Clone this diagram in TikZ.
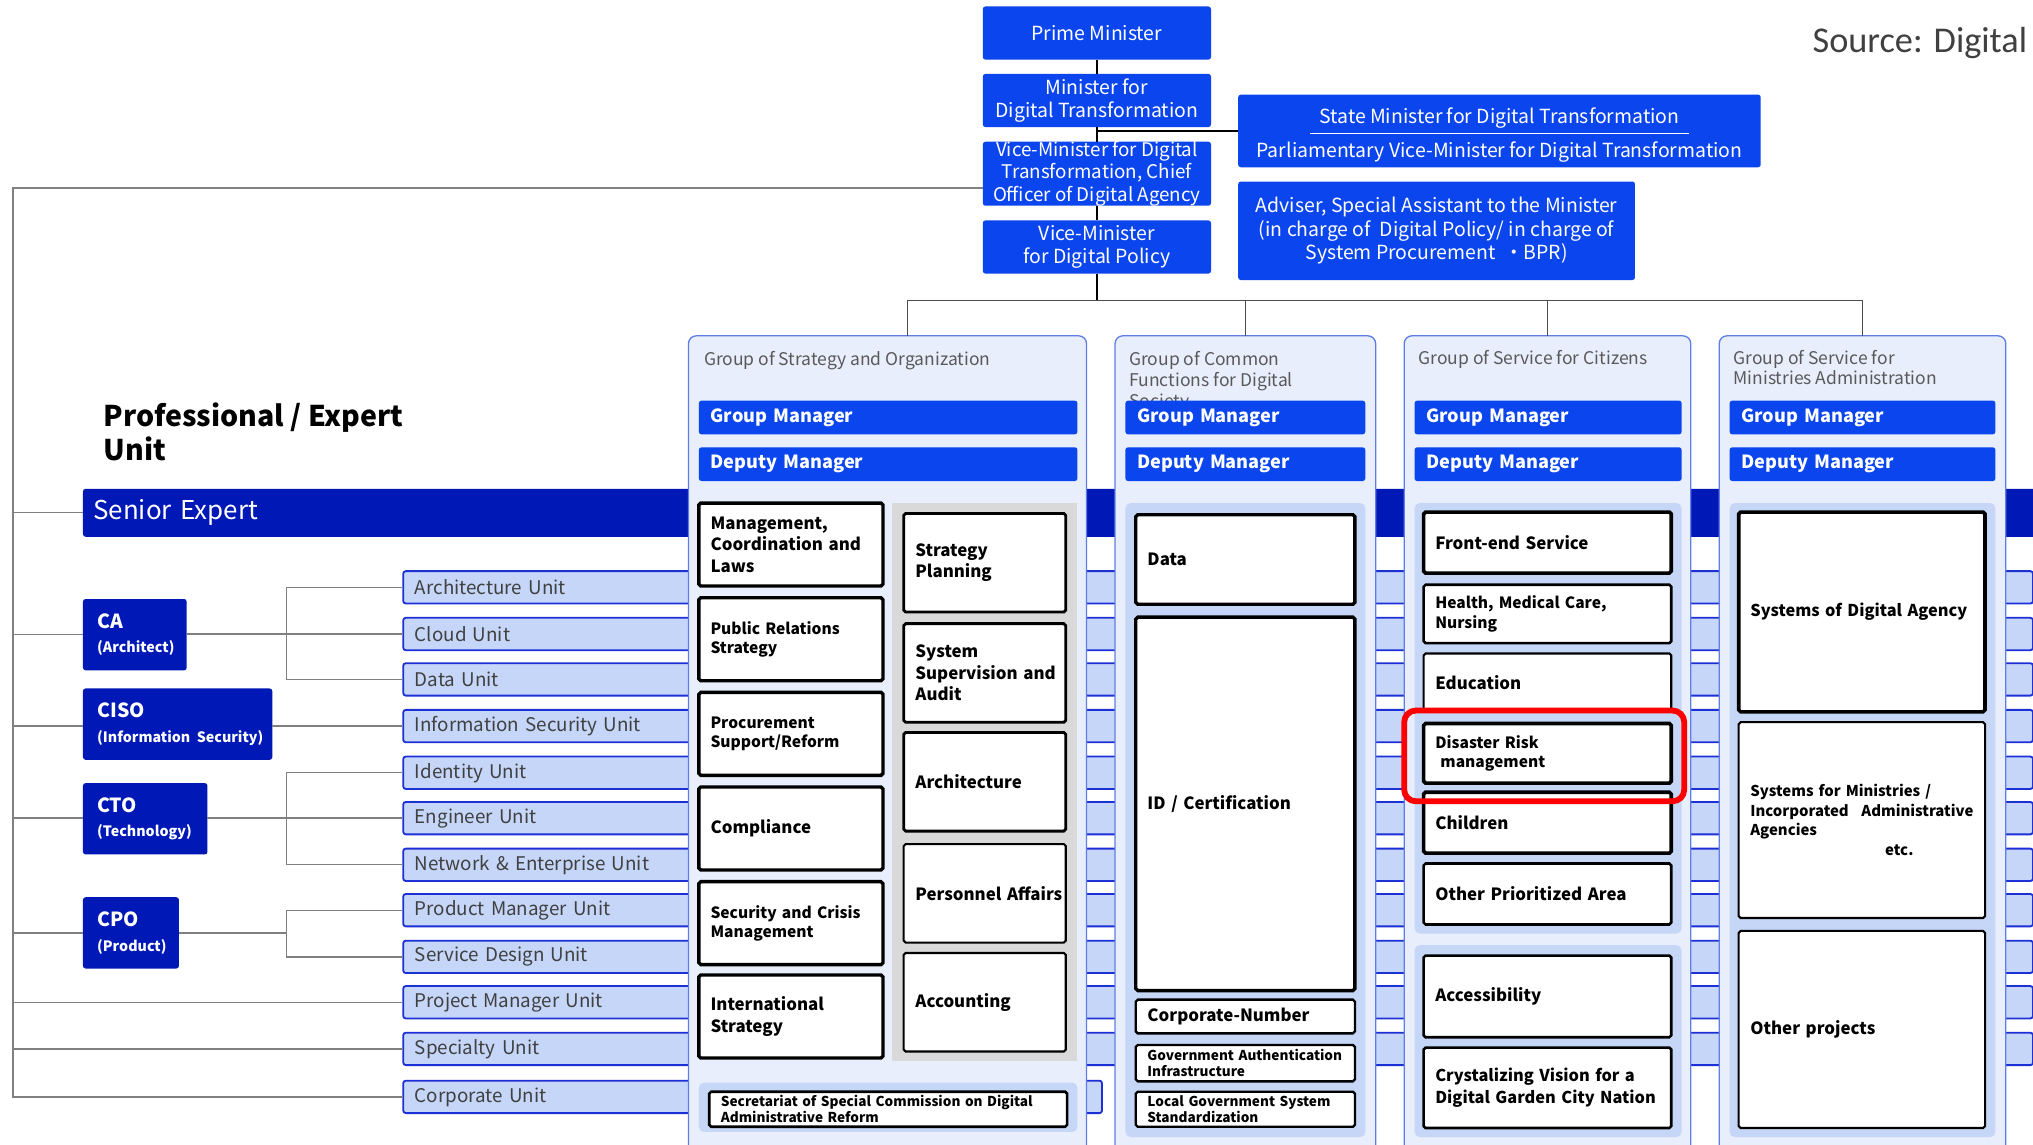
\documentclass[tikz,border=0pt]{standalone}
\usepackage{fontspec}
\setmainfont{Noto Sans CJK JP}
\newfontfamily\srcfont{Carlito}
\definecolor{topblue}{RGB}{11,69,238}
\definecolor{navy}{RGB}{0,24,182}
\definecolor{gfill}{RGB}{232,238,252}
\definecolor{gline}{RGB}{95,125,232}
\definecolor{panel}{RGB}{198,214,246}
\definecolor{unitfill}{RGB}{197,214,248}
\definecolor{unitline}{RGB}{28,48,214}
\definecolor{boxgray}{RGB}{217,217,217}
\definecolor{lgray}{RGB}{128,128,128}
\definecolor{txtgray}{RGB}{64,64,64}
\definecolor{titlegray}{RGB}{89,89,89}
\begin{document}
\begin{tikzpicture}[x=1pt,y=-1pt,
        every node/.style={inner sep=0pt,outer sep=0pt},
        topbox/.style={fill=topblue,rounded corners=2pt,text=white,align=center,font=\fontsize{15}{18}\selectfont},
        navybox/.style={fill=navy,rounded corners=2pt,text=white,anchor=north west,align=left,inner xsep=11pt,font=\fontsize{15}{19}\selectfont},
        unitbar/.style={draw=unitline,line width=1.4pt,fill=unitfill,rounded corners=2pt,anchor=west,minimum height=25pt,align=left,inner xsep=9pt,text=txtgray,font=\fontsize{14.5}{17}\selectfont},
        grp/.style={draw=gline,line width=1pt,fill=gfill,rounded corners=6pt,anchor=north west,minimum height=640pt},
        gtitle/.style={anchor=north west,align=left,text=titlegray,font=\fontsize{13.5}{16}\selectfont},
        mgr/.style={fill=topblue,rounded corners=2pt,anchor=north west,text=white,align=left,inner xsep=9pt,minimum height=26pt,font=\bfseries\fontsize{14}{16}\selectfont},
        cell/.style={draw,fill=white,rounded corners=1.5pt,anchor=north west,align=left,inner xsep=9pt,font=\bfseries\fontsize{13}{16.5}\selectfont,execute at begin node={\hyphenpenalty=10000}},
        fsmall/.style={font=\bfseries\fontsize{12}{15}\selectfont},
        ftiny/.style={font=\bfseries\fontsize{10.5}{12.5}\selectfont},
        conn/.style={draw=lgray,line width=1pt},
        chain/.style={line width=2pt}]
    \clip (0,0) rectangle (1568,883);
    \fill[white] (0,0) rectangle (1568,883);
    % top of the agency
    \node[topbox,minimum width=176pt,minimum height=41pt] (pm) at (846,25.5) {Prime Minister};
    \node[topbox,minimum width=176pt,minimum height=41pt] (mdt) at (846,77.5) {Minister for\\Digital Transformation};
    \node[topbox,minimum width=176pt,minimum height=48pt,font=\fontsize{14.5}{17}\selectfont] (vmc) at (846,134) {Vice-Minister for Digital\\Transformation, Chief\\Officer of Digital Agency};
    \node[topbox,minimum width=176pt,minimum height=41pt] (vmp) at (846,190.5) {Vice-Minister\\for Digital Policy};
    \node[topbox,minimum width=403pt,minimum height=56pt,font=\fontsize{15}{26}\selectfont] (smd) at (1156.5,101) {\rule{0pt}{19pt}State Minister for Digital Transformation\\Parliamentary Vice-Minister for Digital Transformation};
    \draw[white,line width=1.3pt] ([xshift=-146pt,yshift=-2pt]smd.center) -- ([xshift=146pt,yshift=-2pt]smd.center);
    \node[topbox,minimum width=306pt,minimum height=76pt] (adv) at (1108,178) {Adviser, Special Assistant to the Minister\\(in charge of\ \ Digital Policy/ in charge of\\System Procurement\ \ ・BPR)};
    \node[font=\srcfont\fontsize{28}{32}\selectfont,text=txtgray,anchor=west] (src) at (1398,33) {Source: Digital};
    \coordinate (bus) at (846,232);
    \draw[chain] (pm) -- (mdt) (mdt) -- (vmc) (vmc) -- (vmp) (vmp.south) -- (bus);
    \draw[chain] (smd.west) -- (smd.west -| mdt.south);

    % professional / expert unit
    \node[anchor=north west,align=left,font=\bfseries\fontsize{22}{26}\selectfont] (peu) at (80,311) {Professional / Expert\\Unit};
    \node[navybox,text width=1490pt,minimum height=37pt,inner xsep=8pt,font=\fontsize{20}{24}\selectfont] (se) at (64,377) {Senior Expert};
    \node[unitbar,text width=1239pt] (uarch) at (311,453) {Architecture Unit};
    \node[unitbar,text width=1239pt] (ucloud) at (311,489) {Cloud Unit};
    \node[unitbar,text width=1239pt] (udata) at (311,524) {Data Unit};
    \node[unitbar,text width=1239pt] (uisec) at (311,560) {Information Security Unit};
    \node[unitbar,text width=1239pt] (uident) at (311,596) {Identity Unit};
    \node[unitbar,text width=1239pt] (ueng) at (311,631) {Engineer Unit};
    \node[unitbar,text width=1239pt] (unet) at (311,667) {Network \& Enterprise Unit};
    \node[unitbar,text width=1239pt] (uprod) at (311,702) {Product Manager Unit};
    \node[unitbar,text width=1239pt] (usd) at (311,738) {Service Design Unit};
    \node[unitbar,text width=1239pt] (uproj) at (311,773) {Project Manager Unit};
    \node[unitbar,text width=1239pt] (uspec) at (311,809) {Specialty Unit};
    \node[unitbar,text width=521pt] (ucorp) at (311,846) {Corporate Unit};
    \node[navybox,text width=58pt,minimum height=55pt] (ca) at (64,462) {{\bfseries CA}\\{\bfseries\fontsize{11}{12}\selectfont\mbox{(Architect)}}};
    \node[navybox,text width=124pt,minimum height=55pt] (ciso) at (64,531) {{\bfseries CISO}\\{\bfseries\fontsize{11}{12}\selectfont\mbox{(Information Security)}}};
    \node[navybox,text width=74pt,minimum height=55pt] (cto) at (64,604) {{\bfseries CTO}\\{\bfseries\fontsize{11}{12}\selectfont\mbox{(Technology)}}};
    \node[navybox,text width=52pt,minimum height=55pt] (cpo) at (64,692) {{\bfseries CPO}\\{\bfseries\fontsize{11}{12}\selectfont\mbox{(Product)}}};

    % groups
    \node[grp,minimum width=307pt] (g1) at (531,259) {};
    \node[grp,minimum width=201pt] (g2) at (860,259) {};
    \node[grp,minimum width=221pt] (g3) at (1083,259) {};
    \node[grp,minimum width=221pt] (g4) at (1326,259) {};
    \node[gtitle] (g1t) at (543,271) {Group of Strategy and Organization};
    \node[gtitle] (g2t) at (871,271) {Group of Common\\Functions for Digital\\Society};
    \node[gtitle] (g3t) at (1094,270) {Group of Service for Citizens};
    \node[gtitle] (g4t) at (1337,270) {Group of Service for\\Ministries Administration};
    \node[mgr,text width=274pt] (g1gm) at (539,309) {Group Manager};
    \node[mgr,text width=274pt] (g1dm) at (539,345) {Deputy Manager};
    \node[mgr,text width=167pt] (g2gm) at (868,309) {Group Manager};
    \node[mgr,text width=167pt] (g2dm) at (868,345) {Deputy Manager};
    \node[mgr,text width=188pt] (g3gm) at (1091,309) {Group Manager};
    \node[mgr,text width=188pt] (g3dm) at (1091,345) {Deputy Manager};
    \node[mgr,text width=187pt] (g4gm) at (1334,309) {Group Manager};
    \node[mgr,text width=187pt] (g4dm) at (1334,345) {Deputy Manager};
    \draw[conn,draw=black!70] ([xshift=15.5pt]g1.north) |- (bus) -| (g4.north);
    \draw[conn,draw=black!70] (g2.north) -- (g2.north |- bus) (g3.north) -- (g3.north |- bus);

    % strategy and organization
    \fill[boxgray] (688,388) rectangle (831,818);
    \fill[panel,rounded corners=4pt] (539,835) rectangle (831,873);
    \node[cell,text width=124pt,minimum height=64pt,line width=2.6pt] (ml1) at (539,388) {Management,\\Coordination and\\Laws};
    \node[cell,fsmall,text width=124pt,minimum height=64pt,line width=2.6pt] (ml2) at (539,461) {Public Relations\\Strategy};
    \node[cell,fsmall,text width=124pt,minimum height=64pt,line width=2.6pt] (ml3) at (539,534) {Procurement\\Support/Reform};
    \node[cell,text width=124pt,minimum height=64pt,line width=2.6pt] (ml4) at (539,607) {Compliance};
    \node[cell,fsmall,text width=124pt,minimum height=64pt,line width=2.6pt] (ml5) at (539,680) {Security and Crisis\\Management};
    \node[cell,text width=124pt,minimum height=64pt,line width=2.6pt] (ml6) at (539,752) {International\\Strategy};
    \node[cell,text width=107pt,minimum height=76pt,line width=2.2pt] (mr1) at (697,396) {Strategy\\Planning};
    \node[cell,text width=107pt,minimum height=76pt,line width=2.2pt] (mr2) at (697,481) {System\\\mbox{Supervision and}\\Audit};
    \node[cell,text width=107pt,minimum height=76pt,line width=2.2pt] (mr3) at (697,565) {Architecture};
    \node[cell,text width=107pt,minimum height=76pt,line width=1.6pt] (mr4) at (697,651) {\mbox{Personnel Affairs}};
    \node[cell,text width=107pt,minimum height=76pt,line width=1.6pt] (mr5) at (697,735) {Accounting};
    \node[cell,ftiny,text width=258pt,minimum height=27pt,line width=2pt] (sec) at (547,842) {Secretariat of Special Commission on Digital\\Administrative Reform};

    % common functions
    \fill[panel,rounded corners=4pt] (868,388) rectangle (1053,877);
    \node[cell,text width=151pt,minimum height=69pt,line width=2.6pt] (dat) at (876,397) {Data};
    \node[cell,text width=151pt,minimum height=288pt,line width=2.6pt] (idc) at (876,476) {ID / Certification};
    \node[cell,text width=151pt,minimum height=26pt,line width=1.8pt] (cno) at (876,771) {Corporate-Number};
    \node[cell,ftiny,text width=151pt,minimum height=28pt,line width=1.8pt] (gai) at (876,806) {Government Authentication\\Infrastructure};
    \node[cell,ftiny,text width=151pt,minimum height=27pt,line width=1.8pt] (lgs) at (876,842) {Local Government System\\Standardization};

    % service for citizens
    \fill[panel,rounded corners=4pt] (1091,388) rectangle (1297,720);
    \fill[panel,rounded corners=4pt] (1091,729) rectangle (1297,877);
    \node[cell,text width=173pt,minimum height=47pt,line width=2.8pt] (fes) at (1098,395) {Front-end Service};
    \node[cell,fsmall,text width=173pt,minimum height=45pt,line width=2pt] (hmc) at (1098,451) {Health, Medical Care,\\Nursing};
    \node[cell,text width=173pt,minimum height=45pt,line width=1.6pt] (edu) at (1098,504) {Education};
    \node[cell,fsmall,text width=173pt,minimum height=46pt,line width=2.8pt] (drm) at (1098,558) {Disaster Risk\\\ management};
    \node[cell,text width=173pt,minimum height=47pt,line width=2.8pt] (chi) at (1098,611) {Children};
    \node[cell,text width=173pt,minimum height=47pt,line width=2pt] (opa) at (1098,666) {Other Prioritized Area};
    \node[cell,text width=173pt,minimum height=63pt,line width=2pt] (acc) at (1098,737) {Accessibility};
    \node[cell,font=\bfseries\fontsize{12.6}{16.5}\selectfont,text width=173pt,minimum height=62pt,line width=2pt] (cvd) at (1098,808) {\mbox{Crystalizing Vision for a}\\\mbox{Digital Garden City Nation}};
    \draw[red,line width=4.5pt,rounded corners=9pt] ([xshift=-15pt,yshift=10pt]drm.north west) rectangle ([xshift=10pt,yshift=-14pt]drm.south east);

    % service for ministries
    \fill[panel,rounded corners=4pt] (1334,388) rectangle (1539,877);
    \node[cell,font=\bfseries\fontsize{12.6}{16.5}\selectfont,text width=172pt,minimum height=154pt,line width=2.8pt] (sda) at (1341,395) {\mbox{Systems of Digital Agency}};
    \node[cell,font=\bfseries\fontsize{11.5}{15}\selectfont,text width=172pt,minimum height=151pt,line width=1.6pt] (sfm) at (1341,557) {Systems for Ministries /\\Incorporated\hfill Administrative\\Agencies\\\hspace*{104pt}etc.};
    \node[cell,text width=172pt,minimum height=152pt,line width=1.6pt] (opr) at (1341,718) {Other projects};

    % lines to the units
    \coordinate (sp) at (10,145);
    \coordinate (br) at (221,453);
    \draw[conn] (vmc.west |- sp) -- (sp) -- (sp |- ucorp.west) -- (ucorp.west);
    \draw[conn] (sp |- se.west) -- (se.west);
    \draw[conn] (sp |- ca.west) -- (ca.west) (ca.east |- ucloud.west) -- (ucloud.west);
    \draw[conn] (uarch.west) -- (br |- uarch.west) -- (br |- udata.west) -- (udata.west);
    \draw[conn] (sp |- uisec.west) -- (ciso.west |- uisec.west) (ciso.east |- uisec.west) -- (uisec.west);
    \draw[conn] (sp |- ueng.west) -- (cto.west |- ueng.west) (cto.east |- ueng.west) -- (ueng.west);
    \draw[conn] (uident.west) -- (br |- uident.west) -- (br |- unet.west) -- (unet.west);
    \draw[conn] (sp |- cpo.west) -- (cpo.west) (cpo.east) -- (br |- cpo.east);
    \draw[conn] (uprod.west) -- (br |- uprod.west) -- (br |- usd.west) -- (usd.west);
    \draw[conn] (sp |- uproj.west) -- (uproj.west) (sp |- uspec.west) -- (uspec.west);
\end{tikzpicture}
\end{document}
